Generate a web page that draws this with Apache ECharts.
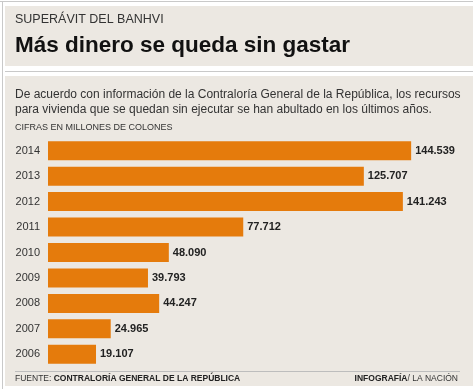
<!DOCTYPE html>
<html><head><meta charset="utf-8">
<script src="https://cdn.jsdelivr.net/npm/echarts@6/dist/echarts.min.js"></script>
<style>html,body{margin:0;padding:0;background:#fff}#c{width:473px;height:389px}</style>
</head><body><div id="c"></div>
<script>
const years = ['2014','2013','2012','2011','2010','2009','2008','2007','2006'];
const values = [144539,125707,141243,77712,48090,39793,44247,24965,19107];

const fmt = v => String(v).replace(/\B(?=(\d{3})+(?!\d))/g, '.');
const chart = echarts.init(document.getElementById('c'));
const FONT = '"Liberation Sans", Arial, sans-serif';
chart.setOption({
  backgroundColor: '#fff',
  animation: false,
  graphic: [
    {type:'line', shape:{x1:0,y1:1.5,x2:473,y2:1.5}, style:{stroke:'#c9c9c9',lineWidth:1}, z:-1},
    {type:'line', shape:{x1:2.5,y1:1,x2:2.5,y2:389}, style:{stroke:'#c9c9c9',lineWidth:1}, z:-1},
    {type:'rect', shape:{x:5,y:6,width:468,height:60}, style:{fill:'#ece8e2'}, z:-2},
    {type:'line', shape:{x1:5,y1:71.5,x2:473,y2:71.5}, style:{stroke:'#c9c9c9',lineWidth:1}, z:-1},
    {type:'rect', shape:{x:5,y:76,width:468,height:310}, style:{fill:'#ece8e2'}, z:-2},
    {type:'line', shape:{x1:15,y1:371.5,x2:460,y2:371.5}, style:{stroke:'#bdbdbd',lineWidth:1}, z:-1},
    {type:'text', left:15, top:13, style:{text:'SUPERÁVIT DEL BANHVI', font:'12.5px '+FONT, fill:'#333'}},
    {type:'text', left:15, top:34, style:{text:'Más dinero se queda sin gastar', font:'bold 22.5px '+FONT, fill:'#111'}},
    {type:'text', left:15, top:87, style:{text:'De acuerdo con información de la Contraloría General de la República, los recursos\npara vivienda que se quedan sin ejecutar se han abultado en los últimos años.', font:'12px '+FONT, fill:'#333', lineHeight:15}},
    {type:'text', left:15, top:123, style:{text:'CIFRAS EN MILLONES DE COLONES', font:'9px '+FONT, fill:'#333'}},
    {type:'text', left:15, top:374, style:{rich:{a:{font:'8.5px '+FONT, fill:'#333'}, b:{font:'bold 8.5px '+FONT, fill:'#222'}}, text:'{a|FUENTE: }{b|CONTRALORÍA GENERAL DE LA REPÚBLICA}'}},
    {type:'text', right:15, top:374, style:{rich:{a:{font:'8.5px '+FONT, fill:'#333'}, b:{font:'bold 8.5px '+FONT, fill:'#222'}}, text:'{b|INFOGRAFÍA}{a|/ LA NACIÓN}'}}
  ],
  grid: {left:48, right:23, top:138, height:229, containLabel:false},
  xAxis: {type:'value', min:0, max:160000, show:false},
  yAxis: {type:'category', data:years, inverse:true,
    axisLine:{show:false}, axisTick:{show:false}, splitLine:{show:false},
    axisLabel:{color:'#333', fontSize:11, fontFamily:FONT, margin:8}},
  series: [{type:'bar', data:values, barWidth:19,
    itemStyle:{color:'#e57b0c'},
    label:{show:true, position:'right', distance:4, color:'#222', fontWeight:'bold', fontSize:11, fontFamily:FONT,
      formatter: p => fmt(p.value)}}]
});
</script></body></html>
